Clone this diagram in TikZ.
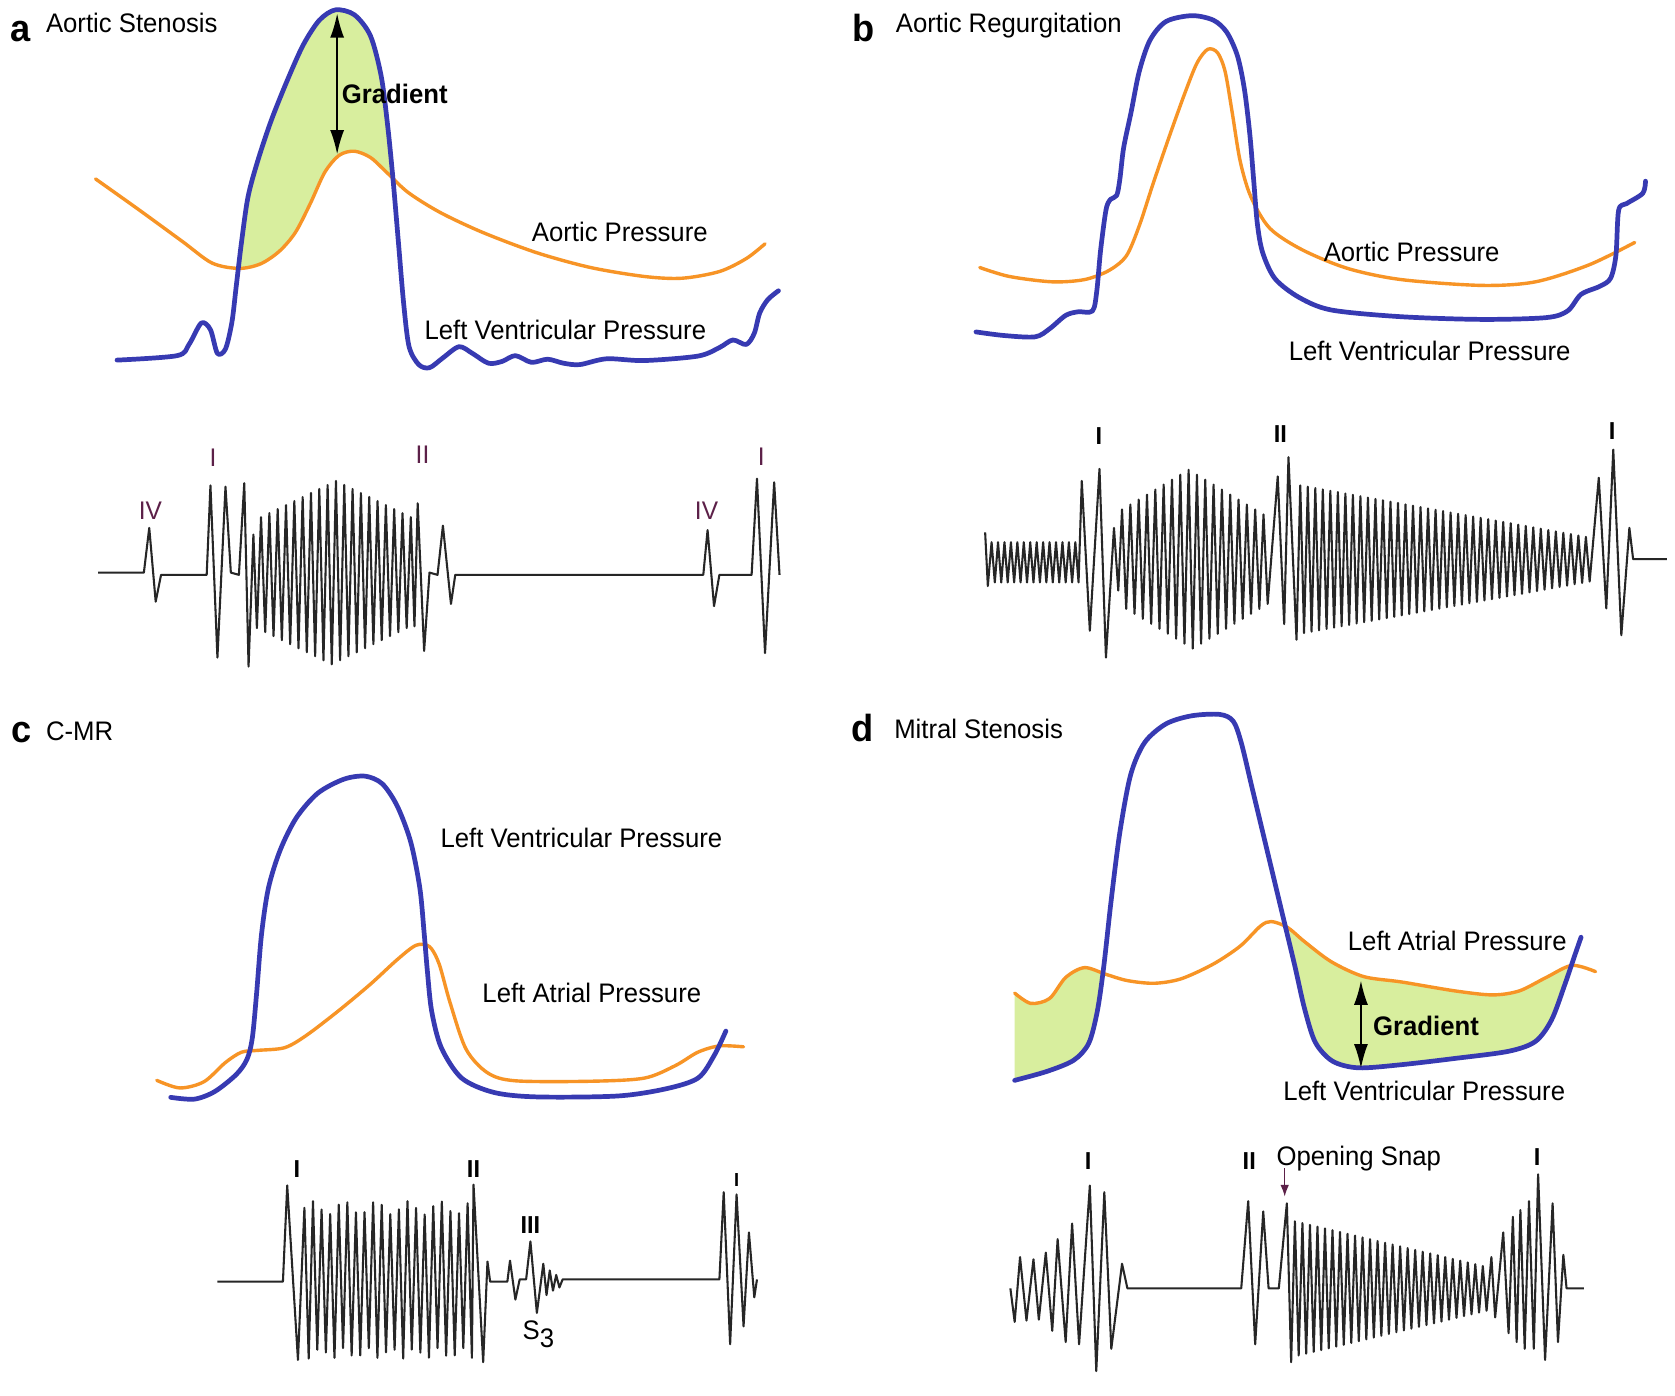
\documentclass[tikz,border=0pt]{standalone}
\usepackage{fontspec}
\setmainfont{Liberation Sans}[FakeStretch=0.96]
\usepackage{tikz}
\usetikzlibrary{arrows.meta}

\definecolor{lvblue}{RGB}{55,58,178}
\definecolor{presorange}{RGB}{247,148,38}
\definecolor{gradgreen}{RGB}{216,238,158}
\definecolor{numpurple}{RGB}{92,32,72}

% pressure curves, in panel coordinates
\newcommand{\lvA}{plot[smooth,tension=.5] coordinates {(218,805) (330,795) (352,770) (375,722) (392,737) (405,790) (420,780) (432,720) (440,640) (450,540) (462,440) (480,360) (505,270) (535,180) (565,100) (595,45) (625,22) (660,33) (690,80) (710,170) (722,280) (732,400) (742,540) (752,680) (762,775) (780,815) (800,822) (825,800) (855,775) (880,790) (910,812) (935,808) (960,795) (990,810) (1020,803) (1050,812) (1080,815) (1130,802) (1200,806) (1300,796) (1340,777) (1365,760) (1390,770) (1405,745) (1415,700) (1430,670) (1450,650)}}
\newcommand{\aoA}{plot[smooth,tension=.5] coordinates {(178,400) (260,470) (340,540) (395,588) (445,600) (485,590) (520,562) (550,520) (578,455) (605,385) (632,347) (660,338) (690,352) (720,385) (760,430) (820,475) (900,520) (1000,565) (1100,598) (1200,618) (1270,622) (1340,607) (1390,578) (1425,545)}}
\newcommand{\lvB}{plot[smooth,tension=.5] coordinates {(258,742) (310,750) (368,753) (395,735) (425,705) (448,697) (475,695) (483,650) (490,560) (500,470) (508,446) (520,437) (526,400) (533,330) (547,250) (562,160) (582,90) (612,48) (660,35) (700,45) (725,72) (745,125) (758,200) (768,300) (775,400) (782,500) (792,565) (815,623) (860,665) (920,693) (1050,708) (1200,714) (1320,710) (1360,695) (1385,658) (1420,640) (1440,622) (1450,570) (1455,470) (1470,455) (1500,432) (1505,405)}}
\newcommand{\aoB}{plot[smooth,tension=.5] coordinates {(265,598) (320,618) (400,630) (460,625) (505,605) (538,572) (562,505) (588,410) (618,305) (648,205) (670,140) (690,110) (708,118) (722,160) (735,250) (750,360) (770,440) (805,510) (865,558) (950,600) (1050,625) (1200,638) (1300,630) (1400,592) (1485,542)}}
\newcommand{\lvC}{plot[smooth,tension=.5] coordinates {(318,893) (362,897) (400,880) (440,842) (460,808) (470,760) (478,660) (487,530) (500,425) (522,340) (552,268) (592,213) (640,182) (680,175) (712,192) (740,242) (765,322) (782,425) (790,525) (796,610) (804,700) (822,782) (860,850) (920,882) (1000,892) (1150,890) (1240,874) (1300,850) (1330,800) (1352,745)}}
\newcommand{\laC}{plot[smooth,tension=.5] coordinates {(292,855) (335,872) (380,858) (420,815) (450,792) (480,788) (530,782) (570,755) (630,700) (690,640) (740,585) (775,553) (800,556) (818,595) (838,680) (868,785) (908,838) (960,856) (1100,857) (1200,850) (1258,822) (1300,792) (1340,778) (1385,780)}}
\newcommand{\lvD}{plot[smooth,tension=.5] coordinates {(330,855) (390,835) (440,810) (468,772) (484,700) (496,600) (510,450) (526,300) (546,172) (572,100) (612,58) (660,40) (712,37) (737,52) (752,100) (772,200) (792,300) (812,400) (832,500) (852,600) (870,695) (890,770) (922,812) (970,827) (1050,820) (1150,806) (1250,790) (1300,768) (1330,720) (1355,640) (1372,580) (1385,535)}}
\newcommand{\laD}{plot[smooth,tension=.5] coordinates {(330,660) (360,683) (395,672) (425,625) (460,603) (500,618) (540,632) (590,638) (640,628) (700,595) (750,555) (788,510) (808,500) (838,513) (870,545) (920,590) (980,623) (1050,635) (1150,655) (1220,664) (1270,655) (1320,625) (1368,598) (1412,612)}}

\begin{document}
\begin{tikzpicture}[x=0.1mm,y=-0.08333mm,
	lv/.style={draw=lvblue, line width=2.5pt, line join=round, line cap=round},
	pres/.style={draw=presorange, line width=1.8pt, line join=round, line cap=round},
	pcg/.style={draw=black!85, line width=1.1pt, line join=round},
	lbl/.style={font=\fontsize{14.2}{17}\selectfont, anchor=base west, inner sep=0pt},
	panel/.style={font=\fontsize{20}{22}\selectfont\bfseries, anchor=base west, inner sep=0pt},
	snd/.style={font=\fontsize{13}{15}\selectfont\bfseries, anchor=base, inner sep=0pt},
	sndthin/.style={font=\fontsize{13.5}{15}\selectfont, text=numpurple, anchor=base, inner sep=0pt},
	gradarrow/.style={{Latex[length=4.5mm,width=2.6mm]}-{Latex[length=4.5mm,width=2.6mm]}, line width=0.9pt}
	]
	\useasboundingbox (0,0) rectangle (3120,3120);
	\fill[white] (0,0) rectangle (3120,3120);

	% a: aortic stenosis
	\begin{scope}
		\begin{scope}
			\clip \lvA -- (1450,1300) -- (218,1300) -- cycle;
			\fill[gradgreen] \aoA -- (1425,0) -- (178,0) -- cycle;
		\end{scope}
		\draw[pres] \aoA;
		\draw[lv] \lvA;

		\node[panel] (letterA) at (18,92) {a};
		\node[lbl] (titleA) at (85,72) {Aortic Stenosis};
		\node[lbl, font=\fontsize{14.2}{17}\selectfont\bfseries] (gradA) at (636,232) {Gradient};
		\node[lbl] (aoLabelA) at (990,540) {Aortic Pressure};
		\node[lbl] (lvLabelA) at (790,760) {Left Ventricular Pressure};

		\coordinate (gradTopA) at (628,30);
		\coordinate (gradBotA) at (628,345);
		\draw[gradarrow] (gradTopA) -- (gradBotA);

		\node[sndthin] (s4A) at (280,1162) {IV};
		\node[sndthin] (s1A) at (397,1042) {I};
		\node[sndthin] (s2A) at (787,1037) {II};
		\node[sndthin] (s4nA) at (1316,1162) {IV};
		\node[sndthin] (s1nA) at (1418,1040) {I};

		\draw[pcg] (183,1280) -- (268,1280) -- (278,1180) -- (290,1345) -- (300,1285) -- (385,1285)
			-- (392,1085) -- (405,1470) -- (420,1088) -- (430,1280) -- (445,1285) -- (455,1080)
			-- (463,1490) -- (472,1195)
			\foreach \k in {1,...,19} { -- ({463+15.5*\k},{1485-90*abs(\k-10)/10}) -- ({470.75+15.5*\k},{1075+90*abs(\k-10)/10}) }
			-- (772,1400) -- (778,1125) -- (790,1455) -- (800,1280) -- (815,1285) -- (825,1175) -- (840,1350) -- (848,1285)
			-- (1310,1285) -- (1318,1185) -- (1330,1355) -- (1340,1285) -- (1400,1285)
			-- (1410,1070) -- (1425,1460) -- (1442,1078) -- (1452,1285);
	\end{scope}

	% b: aortic regurgitation
	\begin{scope}[shift={(1560,0)}]
		\draw[pres] \aoB;
		\draw[lv] \lvB;

		\node[panel] (letterB) at (28,92) {b};
		\node[lbl] (titleB) at (108,72) {Aortic Regurgitation};
		\node[lbl] (aoLabelB) at (905,585) {Aortic Pressure};
		\node[lbl] (lvLabelB) at (840,805) {Left Ventricular Pressure};

		\node[snd] (s1B) at (487,993) {I};
		\node[snd] (s2B) at (825,990) {II};
		\node[snd] (s1nB) at (1443,982) {I};

		\draw[pcg] (275,1190) -- (280,1310)
			\foreach \k in {0,...,13} { -- ({287+12*\k},1212) -- ({293+12*\k},1302) }
			-- (455,1075) -- (470,1410) -- (488,1048) -- (500,1470) -- (515,1180) -- (523,1320)
			\foreach \k in {0,...,17} { -- ({530+15.5*\k},{1250-(200-100*abs(\k-8)/9)}) -- ({537.75+15.5*\k},{1250+(200-100*abs(\k-8)/9)}) }
			-- (820,1065) -- (832,1395) -- (840,1022) -- (855,1430)
			\foreach \k in {0,...,38} { -- ({862+14*\k},{1250-(165-115*\k/38)}) -- ({869+14*\k},{1250+(165-115*\k/38)}) }
			-- (1418,1068) -- (1432,1360) -- (1445,1005) -- (1460,1420) -- (1475,1180) -- (1482,1250) -- (1545,1250);
	\end{scope}

	% c: C-MR
	\begin{scope}[shift={(0,1560)}]
		\draw[pres] \laC;
		\draw[lv] \lvC;

		\node[panel] (letterC) at (20,100) {c};
		\node[lbl] (titleC) at (85,95) {C-MR};
		\node[lbl] (lvLabelC) at (820,335) {Left Ventricular Pressure};
		\node[lbl] (laLabelC) at (898,680) {Left Atrial Pressure};

		\node[snd] (s1C) at (553,1073) {I};
		\node[snd] (s2C) at (882,1072) {II};
		\node[snd] (s3C) at (988,1198) {III};
		\node[snd, font=\fontsize{10}{12}\selectfont\bfseries] (s1nC) at (1372,1092) {I};
		\node[lbl, anchor=base] (s3nameC) at (1003,1435) {S\raisebox{-0.55ex}{3}};

		\draw[pcg] (405,1305) -- (527,1305) -- (535,1090) -- (555,1480)
			\foreach \k in {0,...,19} { -- ({567+16*\k},{1140-15*sin(\k*97)}) -- ({575+16*\k},{1465+12*cos(\k*131)}) }
			-- (882,1088) -- (900,1485) -- (908,1260) -- (913,1305) -- (945,1305) -- (950,1258) -- (960,1345) -- (968,1300)
			-- (980,1300) -- (988,1215) -- (1000,1375) -- (1012,1265) -- (1018,1335) -- (1024,1280) -- (1030,1325)
			-- (1036,1290) -- (1042,1318) -- (1048,1300) -- (1340,1300)
			-- (1348,1105) -- (1360,1445) -- (1372,1110) -- (1385,1405) -- (1395,1195) -- (1405,1340) -- (1410,1300);
	\end{scope}

	% d: mitral stenosis
	\begin{scope}[shift={(1560,1560)}]
		\begin{scope}
			\clip \laD -- (1412,1300) -- (330,1300) -- cycle;
			\fill[gradgreen] \lvD -- (1385,0) -- (330,0) -- cycle;
		\end{scope}
		\draw[pres] \laD;
		\draw[lv] \lvD;

		\node[panel] (letterD) at (25,98) {d};
		\node[lbl] (titleD) at (105,90) {Mitral Stenosis};
		\node[lbl] (laLabelD) at (950,565) {Left Atrial Pressure};
		\node[lbl, font=\fontsize{14.2}{17}\selectfont\bfseries] (gradD) at (997,755) {Gradient};
		\node[lbl] (lvLabelD) at (830,900) {Left Ventricular Pressure};

		\coordinate (gradTopD) at (975,632);
		\coordinate (gradBotD) at (975,828);
		\draw[gradarrow] (gradTopD) -- (gradBotD);

		\node[snd] (s1D) at (467,1055) {I};
		\node[snd] (s2D) at (767,1055) {II};
		\node[lbl] (osLabelD) at (817,1045) {Opening Snap};
		\node[snd] (s1nD) at (1303,1045) {I};
		\coordinate (osTipD) at (833,1115);
		\draw[numpurple, line width=0.8pt, -{Latex[length=2.2mm,width=1.6mm]}] (833,1052) -- (osTipD);

		\draw[pcg] (322,1320) -- (330,1395) -- (340,1250) -- (352,1392) -- (365,1255) -- (375,1390) -- (388,1240)
			-- (400,1415) -- (410,1210) -- (425,1440) -- (437,1175) -- (450,1445) -- (470,1090) -- (482,1505)
			-- (497,1105) -- (510,1455) -- (530,1265) -- (540,1320) -- (752,1320)
			-- (765,1125) -- (778,1445) -- (793,1148) -- (803,1320) -- (822,1320) -- (837,1130) -- (845,1485)
			\foreach \k in {0,...,25} { -- ({852+14*\k},{1320-(150-100*\k/25)}) -- ({859+14*\k},{1320+(150-100*\k/25)}) }
			-- (1218,1250) -- (1225,1385) -- (1240,1195) -- (1250,1420) -- (1258,1160) -- (1265,1440) -- (1272,1145)
			-- (1280,1455) -- (1288,1125) -- (1297,1455) -- (1305,1065) -- (1318,1480) -- (1332,1130) -- (1342,1440)
			-- (1352,1245) -- (1358,1320) -- (1390,1320);
	\end{scope}
\end{tikzpicture}
\end{document}
